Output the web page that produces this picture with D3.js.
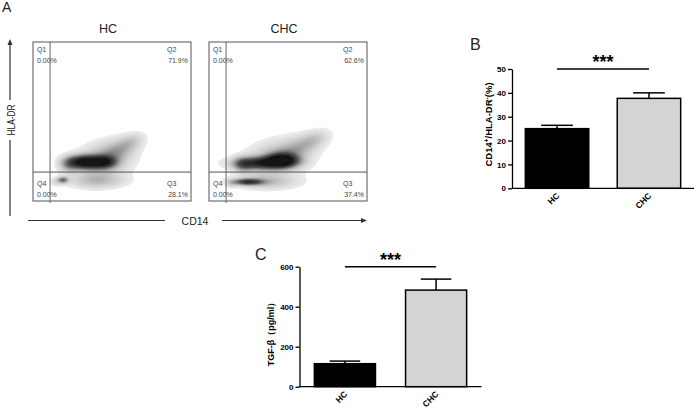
<!DOCTYPE html>
<html>
<head>
<meta charset="utf-8">
<script src="https://cdn.jsdelivr.net/npm/d3@7"></script>
<style>
  body { margin: 0; background: #fff; }
  svg { display: block; font-family: 'Liberation Sans', Arial, sans-serif; }
</style>
</head>
<body>
<svg id="fig" width="696" height="412"></svg>
<script>
// ---------- data ----------
var groups = ["HC", "CHC"];

var hlaMean = [25.0, 37.7];
var hlaErr = [1.4, 2.3];
var hlaTicks = [0, 10, 20, 30, 40, 50];

var tgfMean = [115, 483];
var tgfErr = [13, 55];
var tgfTicks = [0, 200, 400, 600];

// flow plots, both axes in % of scale
var flowGateX = 10.8;
var flowGateY = 18.2;
var q1Pct = ["0.00%", "0.00%"];
var q2Pct = ["71.9%", "62.6%"];
var q3Pct = ["28.1%", "37.4%"];
var q4Pct = ["0.00%", "0.00%"];

// density blobs: [CD14, HLA-DR, spread x, spread y, weight, angle]
var hcBlobs = [
    [45.0, 25.0, 11.5, 7.5, 0.30, 12],
    [54.0, 32.0, 9.0, 4.4, 0.22, 25],
    [63.0, 37.5, 5.5, 3.2, 0.12, 20],
    [32.3, 24.5, 7.0, 2.8, 1.00, 0],
    [44.9, 24.5, 5.1, 2.5, 0.65, 0],
    [22.5, 22.6, 4.0, 3.5, 0.25, 0],
    [40.0, 12.6, 12.0, 3.1, 0.22, 0],
    [19.0, 13.2, 2.2, 1.3, 0.50, 0],
    [14.6, 12.0, 2.5, 1.9, 0.12, 0]
];
var chcBlobs = [
    [43.0, 26.5, 14.0, 7.5, 0.28, 12],
    [57.6, 34.0, 11.0, 4.4, 0.20, 22],
    [67.0, 39.0, 6.0, 3.2, 0.12, 20],
    [33.5, 23.9, 11.4, 2.5, 0.75, 0],
    [46.8, 25.8, 6.3, 2.8, 0.90, 0],
    [21.5, 22.6, 4.0, 3.0, 0.32, 0],
    [24.7, 12.0, 6.3, 1.3, 0.70, 0],
    [37.0, 12.0, 13.0, 3.1, 0.22, 0],
    [13.9, 11.3, 2.5, 1.9, 0.12, 0]
];

// ---------- page ----------
var svg = d3.select("#fig");
var defs = svg.append("defs");
defs.append("filter").attr("id", "soft")
    .append("feGaussianBlur").attr("stdDeviation", 0.7);

function letter(t, x, y, size) {
    svg.append("text").attr("x", x).attr("y", y)
        .style("font-size", size + "px").style("fill", "#222").text(t);
}

// ---------- panel A ----------
var boxW = 158, boxH = 159, boxTop = 42;
var boxLeft = [33, 209];
var flowX = d3.scaleLinear().domain([0, 100]).range([0, boxW]);
var flowY = d3.scaleLinear().domain([0, 100]).range([boxH, 0]);
var shade = d3.scaleLinear()
    .domain([0.045, 0.25, 0.6, 1.0])
    .range(["#eaeaea", "#bdbdbd", "#505050", "#141414"])
    .clamp(true);

function drawFlow(k, blobs) {
    var g = svg.append("g").attr("transform", "translate(" + boxLeft[k] + "," + boxTop + ")");

    defs.append("clipPath").attr("id", "clip" + k)
        .append("rect").attr("width", boxW).attr("height", boxH);

    // density grid from the blobs
    var n = 130;
    var values = new Array(n * n);
    for (var j = 0; j < n; j++) {
        for (var i = 0; i < n; i++) {
            var x = (i + 0.5) * 100 / n;
            var y = 100 - (j + 0.5) * 100 / n;
            var v = 0;
            blobs.forEach(function (b) {
                var a = b[5] * Math.PI / 180;
                var dx = x - b[0], dy = y - b[1];
                var u = dx * Math.cos(a) + dy * Math.sin(a);
                var w = -dx * Math.sin(a) + dy * Math.cos(a);
                v += b[4] * Math.exp(-0.5 * (u * u / (b[2] * b[2]) + w * w / (b[3] * b[3])));
            });
            values[j * n + i] = v;
        }
    }
    var contours = d3.contours().size([n, n])
        .thresholds(d3.range(0.045, 1.3, 0.03))(values);
    var proj = d3.geoTransform({
        point: function (x, y) {
            this.stream.point(x * boxW / n, y * boxH / n);
        }
    });

    g.append("g").attr("clip-path", "url(#clip" + k + ")")
        .append("g").attr("filter", "url(#soft)")
        .selectAll("path")
        .data(contours)
        .enter().append("path")
        .attr("d", d3.geoPath(proj))
        .attr("fill", function (d) { return shade(d.value); });

    g.append("rect").attr("width", boxW).attr("height", boxH)
        .attr("fill", "none").attr("stroke", "#555").attr("stroke-width", 1);

    g.append("line")
        .attr("x1", flowX(flowGateX)).attr("x2", flowX(flowGateX))
        .attr("y1", 0).attr("y2", boxH + 2)
        .attr("stroke", "#666").attr("stroke-width", 1);
    g.append("line")
        .attr("x1", 0).attr("x2", boxW)
        .attr("y1", flowY(flowGateY)).attr("y2", flowY(flowGateY))
        .attr("stroke", "#555").attr("stroke-width", 1);

    var lab = g.append("g").style("font-size", "7px").style("fill", "#444");
    lab.append("text").attr("x", 4).attr("y", 10).text("Q1");
    lab.append("text").attr("x", 4).attr("y", 21).text(q1Pct[k]);
    lab.append("text").attr("x", boxW - 24).attr("y", 10).text("Q2");
    lab.append("text").attr("x", boxW - 3).attr("y", 21).attr("text-anchor", "end").text(q2Pct[k]);
    lab.append("text").attr("x", 4).attr("y", 144).text("Q4");
    lab.append("text").attr("x", 4).attr("y", 155).text(q4Pct[k]);
    lab.append("text").attr("x", boxW - 24).attr("y", 144).text("Q3");
    lab.append("text").attr("x", boxW - 3).attr("y", 155).attr("text-anchor", "end").text(q3Pct[k]);

    svg.append("text")
        .attr("x", boxLeft[k] + boxW / 2 - 4).attr("y", 33)
        .attr("text-anchor", "middle")
        .style("font-size", "12.5px").style("fill", "#222")
        .text(groups[k]);
}

drawFlow(0, hcBlobs);
drawFlow(1, chcBlobs);

// axis arrows of panel A
var arrows = svg.append("g").attr("stroke", "#333").attr("stroke-width", 1.2);
arrows.append("line").attr("x1", 10).attr("x2", 10).attr("y1", 44).attr("y2", 100);
arrows.append("line").attr("x1", 10).attr("x2", 10).attr("y1", 140).attr("y2", 216);
arrows.append("line").attr("x1", 28).attr("x2", 165).attr("y1", 220.5).attr("y2", 220.5);
arrows.append("line").attr("x1", 222).attr("x2", 362).attr("y1", 220.5).attr("y2", 220.5);
svg.append("path").attr("d", "M10,39 L7.5,45 L12.5,45 Z").attr("fill", "#333");
svg.append("path").attr("d", "M367,220.5 L361,218 L361,223 Z").attr("fill", "#333");

svg.append("text")
    .attr("transform", "translate(14.5,120) rotate(-90)")
    .attr("text-anchor", "middle")
    .attr("textLength", 31).attr("lengthAdjust", "spacingAndGlyphs")
    .style("font-size", "11px").style("fill", "#222")
    .text("HLA-DR");
svg.append("text")
    .attr("x", 195).attr("y", 224.5)
    .attr("text-anchor", "middle")
    .style("font-size", "10.5px").style("fill", "#222")
    .text("CD14");

letter("A", 2, 12, 14);

// ---------- bar panels ----------
function drawBars(o) {
    var y = d3.scaleLinear().domain([0, o.max]).range([o.bottom, o.top]);
    var x = d3.scaleBand().domain(groups).range([o.left, o.right])
        .paddingInner(o.padIn).paddingOuter(o.padOut);
    var g = svg.append("g");

    g.selectAll("rect.bar")
        .data(groups)
        .enter().append("rect")
        .attr("class", "bar")
        .attr("x", function (d) { return x(d); })
        .attr("width", x.bandwidth())
        .attr("y", function (d, i) { return y(o.mean[i]); })
        .attr("height", function (d, i) { return y(0) - y(o.mean[i]); })
        .attr("fill", function (d, i) { return i === 0 ? "#000" : "#d4d4d4"; })
        .attr("stroke", "#000").attr("stroke-width", 1.5);

    // upper error bars
    var err = g.selectAll("g.err")
        .data(groups)
        .enter().append("g")
        .attr("stroke", "#000").attr("stroke-width", 1.5);
    err.append("line")
        .attr("x1", function (d) { return x(d) + x.bandwidth() / 2; })
        .attr("x2", function (d) { return x(d) + x.bandwidth() / 2; })
        .attr("y1", function (d, i) { return y(o.mean[i]); })
        .attr("y2", function (d, i) { return y(o.mean[i] + o.err[i]); });
    err.append("line")
        .attr("x1", function (d) { return x(d) + x.bandwidth() / 4; })
        .attr("x2", function (d) { return x(d) + x.bandwidth() * 3 / 4; })
        .attr("y1", function (d, i) { return y(o.mean[i] + o.err[i]); })
        .attr("y2", function (d, i) { return y(o.mean[i] + o.err[i]); });

    // y axis
    var ax = g.append("g")
        .attr("transform", "translate(" + o.left + ",0)")
        .call(d3.axisLeft(y).tickValues(o.ticks).tickSize(4).tickSizeOuter(0).tickPadding(2));
    ax.selectAll("path, line").attr("stroke", "#000").attr("stroke-width", 1.3);
    ax.selectAll("text")
        .style("font-size", "8px").style("font-weight", "bold")
        .style("font-family", "'Liberation Sans', Arial, sans-serif").attr("fill", "#000");

    // x axis line
    g.append("line")
        .attr("x1", o.left).attr("x2", o.right)
        .attr("y1", y(0)).attr("y2", y(0))
        .attr("stroke", "#000").attr("stroke-width", 1.3);

    g.selectAll("text.cat")
        .data(groups)
        .enter().append("text")
        .attr("class", "cat")
        .attr("text-anchor", "end")
        .attr("transform", function (d) {
            return "translate(" + (x(d) + x.bandwidth() / 2 + 3) + "," + (y(0) + 8) + ") rotate(-45)";
        })
        .style("font-size", "8.5px").style("font-weight", "bold")
        .text(function (d) { return d; });

    // significance
    var c0 = x(groups[0]) + x.bandwidth() / 2;
    var c1 = x(groups[1]) + x.bandwidth() / 2;
    g.append("line")
        .attr("x1", c0).attr("x2", c1)
        .attr("y1", y(o.max)).attr("y2", y(o.max))
        .attr("stroke", "#000").attr("stroke-width", 1.5);
    g.append("text")
        .attr("x", (c0 + c1) / 2).attr("y", y(o.max) - 1)
        .attr("text-anchor", "middle")
        .style("font-size", "18px").style("font-weight", "bold")
        .text("***");

    return g;
}

var gB = drawBars({
    left: 512, right: 694, top: 69, bottom: 188.3, max: 50,
    padIn: 0.31, padOut: 0.145,
    mean: hlaMean, err: hlaErr, ticks: hlaTicks
});
var labB = gB.append("text")
    .attr("transform", "translate(491.5,124.5) rotate(-90)")
    .attr("text-anchor", "middle")
    .style("font-size", "9.5px").style("font-weight", "bold");
labB.append("tspan").text("CD14");
labB.append("tspan").attr("baseline-shift", "super").style("font-size", "6.5px").text("+");
labB.append("tspan").text("/HLA-DR");
labB.append("tspan").attr("baseline-shift", "super").style("font-size", "6.5px").text("-");
labB.append("tspan").text("(%)");

var gC = drawBars({
    left: 299.5, right: 481.5, top: 266.7, bottom: 386.7, max: 600,
    padIn: 0.33, padOut: 0.163,
    mean: tgfMean, err: tgfErr, ticks: tgfTicks
});
gC.append("text")
    .attr("transform", "translate(274,332) rotate(-90)")
    .attr("text-anchor", "middle")
    .style("font-size", "9px").style("font-weight", "bold")
    .text("TGF-β（pg/ml）");

letter("B", 470, 50, 16);
letter("C", 255, 260, 16);
</script>
</body>
</html>
